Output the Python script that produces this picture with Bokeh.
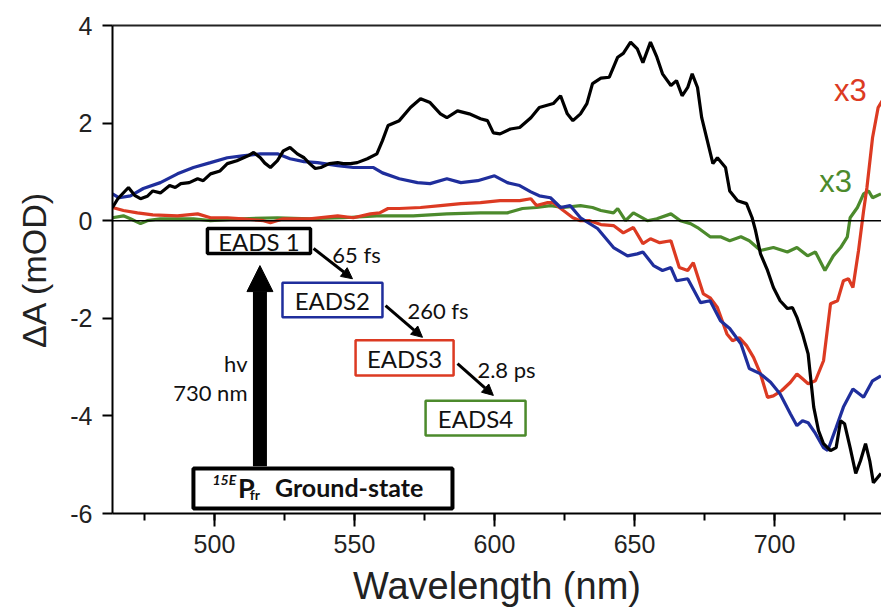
from bokeh.plotting import figure
from bokeh.models import (SingleIntervalTicker, FixedTicker, LinearAxis, Span,
                          BoxAnnotation, Label, Arrow, NormalHead)
from bokeh.embed import file_html
from bokeh.resources import INLINE

# ---------------- data ----------------
eads1_wl = [463.6, 465.5, 469.3, 471.5, 473.6, 476, 478, 480.7, 484, 486, 488, 491, 494, 496,
            498.6, 502, 504.6, 508, 512, 514, 516.4, 518, 520, 522.5, 524.6, 527, 529.6, 532,
            534, 536, 538, 541, 544, 546, 548.6, 551, 554.6, 558, 560, 562, 566, 570, 573.6,
            577, 580.7, 583, 586.8, 591, 595, 597.5, 599.6, 602, 605.7, 609, 613, 616, 621,
            623.6, 626, 628, 630.7, 633, 635, 638, 641, 644, 646, 648.6, 651, 653, 655.7, 658,
            660, 663, 665, 667, 669, 670.6, 672.5, 674, 676, 678, 679.6, 682.5, 684, 686.8,
            690, 692, 693.2, 695, 697.5, 699.6, 702, 704.6, 706.4, 708, 710, 712, 713, 714,
            715.7, 717.5, 720, 722, 723.6, 725, 727, 729, 730.7, 732.5, 734, 735.3, 738]
eads1_da = [0.27, 0.45, 0.68, 0.52, 0.45, 0.50, 0.61, 0.57, 0.72, 0.68, 0.76, 0.78, 0.86, 0.82,
            0.96, 1.02, 1.17, 1.23, 1.33, 1.40, 1.29, 1.18, 1.09, 1.23, 1.43, 1.50, 1.37, 1.29,
            1.17, 1.07, 1.09, 1.17, 1.19, 1.17, 1.17, 1.19, 1.27, 1.37, 1.64, 1.95, 2.05, 2.32,
            2.50, 2.42, 2.19, 2.11, 2.25, 2.19, 2.09, 2.05, 1.80, 1.78, 1.88, 1.91, 2.11, 2.32,
            2.40, 2.56, 2.19, 2.05, 2.19, 2.40, 2.81, 2.92, 2.94, 3.35, 3.43, 3.66, 3.52, 3.24,
            3.66, 3.35, 3.01, 2.77, 2.87, 2.56, 2.73, 3.01, 2.73, 2.11, 1.64, 1.17, 1.29, 1.09,
            0.61, 0.41, 0.35, 0.06, -0.20, -0.68, -1.02, -1.37, -1.64, -1.80, -1.78, -1.98,
            -2.32, -2.73, -3.28, -3.82, -4.30, -4.57, -4.71, -4.65, -4.10, -4.16, -4.65, -5.18,
            -4.92, -4.57, -4.92, -5.37, -5.18]

eads2_wl = [463.6, 466, 470, 474.6, 480.7, 486.8, 492.5, 498.6, 504.6, 510, 516.4, 522.5, 527,
            532, 536.8, 544, 549.6, 556.8, 560, 566, 572.5, 577, 583, 588, 594, 600, 604.6,
            609, 613, 616, 620, 623.6, 627, 630.7, 636.8, 642.5, 647.5, 651, 653, 656.8, 660,
            663, 665, 669, 673.6, 677, 680.7, 684, 688, 691, 695, 698.6, 702, 705.7, 708, 710,
            712, 714.6, 717.5, 719, 722, 724.6, 728, 731.8, 735, 738]
eads2_da = [0.55, 0.47, 0.51, 0.66, 0.78, 0.96, 1.09, 1.19, 1.29, 1.33, 1.37, 1.37, 1.27,
            1.21, 1.19, 1.13, 1.09, 1.09, 0.98, 0.86, 0.78, 0.76, 0.86, 0.78, 0.82, 0.92, 0.78,
            0.72, 0.59, 0.51, 0.47, 0.27, 0.31, 0.06, -0.16, -0.55, -0.72, -0.68, -0.64, -0.92,
            -1.02, -0.96, -1.23, -1.19, -1.68, -1.64, -2.05, -2.21, -2.52, -3.03, -3.14, -3.31,
            -3.55, -3.96, -4.20, -4.10, -4.14, -4.36, -4.65, -4.71, -4.24, -3.82, -3.45, -3.62,
            -3.28, -3.18]

eads3_wl = [463.6, 467.5, 472.5, 478, 486.8, 494, 498.6, 504.6, 510, 517.5, 520, 524.6, 534,
            544, 549.6, 555.7, 559, 562, 566, 573.6, 580.7, 588, 595, 602, 609, 613, 615, 619,
            621, 624.6, 628, 630.7, 634, 638, 642.5, 646, 649.6, 653, 655.7, 659, 663, 666, 669,
            671, 674.6, 677, 679.6, 683, 685, 687.5, 690, 692.5, 695, 697.5, 699.6, 702.6,
            705.7, 708, 710, 712, 714.6, 717.5, 720, 722.5, 724.6, 726.4, 728, 730, 731.8, 733,
            735, 737, 738.5]
eads3_da = [0.27, 0.21, 0.16, 0.12, 0.10, 0.14, 0.06, 0.06, 0.04, 0.00, -0.04, 0.04, 0.04,
            0.10, 0.06, 0.14, 0.16, 0.25, 0.25, 0.27, 0.31, 0.35, 0.37, 0.41, 0.41, 0.45, 0.31,
            0.37, 0.37, 0.21, 0.06, 0.00, 0.00, -0.08, -0.10, -0.25, -0.14, -0.47, -0.37, -0.45,
            -0.41, -0.96, -1.02, -0.86, -1.50, -1.58, -1.78, -2.32, -2.46, -2.40, -2.56, -2.80,
            -3.14, -3.62, -3.59, -3.48, -3.31, -3.14, -3.24, -3.34, -3.28, -2.87, -1.70, -1.64,
            -1.23, -1.19, -1.37, -0.61, 0.20, 0.68, 1.70, 2.32, 2.46]

eads4_wl = [463.6, 467.5, 470, 473.6, 476, 480.7, 492.5, 498.6, 510, 522.5, 534, 546, 558,
            571, 583, 595, 604.6, 610, 615, 620, 624.6, 630.7, 635, 638, 642.5, 644, 646.8,
            649.6, 654.6, 658, 663, 666.4, 670, 672.5, 677, 680.7, 684, 688, 691, 695, 699.6,
            704.6, 708, 711.8, 714.6, 718, 721, 723.6, 726, 727, 729.6, 731.8, 733.6, 735, 738]
eads4_da = [0.06, 0.10, 0.04, -0.06, 0.00, 0.04, 0.04, 0.00, 0.04, 0.06, 0.04, 0.06, 0.10,
            0.10, 0.14, 0.16, 0.16, 0.25, 0.27, 0.31, 0.27, 0.31, 0.27, 0.21, 0.16, 0.25, 0.00,
            0.16, 0.00, 0.04, 0.14, 0.00, -0.06, -0.14, -0.33, -0.33, -0.41, -0.33, -0.41,
            -0.61, -0.55, -0.64, -0.55, -0.72, -0.64, -1.02, -0.72, -0.55, -0.33, 0.06, 0.27,
            0.55, 0.61, 0.47, 0.55]

series_names = ["EADS 1", "EADS2", "EADS3", "EADS4"]
x_tick_interval = 50
y_ticks = [-6, -4, -2, 0, 2, 4]
y_tick_labels = ["-6", "-4", "-2", "0", "2", "4"]

BLACK = "#000000"
BLUE = "#1f2e9c"
RED = "#dc3a22"
GREEN = "#4c8a2c"

p = figure(width=881, height=612, x_range=(463.6, 738.2), y_range=(-6, 4),
           output_backend="svg", toolbar_location=None,
           min_border_left=112, min_border_right=0, min_border_top=25, min_border_bottom=99)
p.grid.visible = False
p.outline_line_color = None
p.background_fill_color = "white"
p.border_fill_color = "white"

# bottom axis
xa = p.below[0]
xa.ticker = SingleIntervalTicker(interval=x_tick_interval, num_minor_ticks=2)
xa.major_tick_in = 0
xa.major_tick_out = 13
xa.minor_tick_in = 0
xa.minor_tick_out = 7
xa.axis_line_width = 2
xa.major_tick_line_width = 2
xa.minor_tick_line_width = 2
xa.major_label_text_font = "Liberation Sans"
xa.major_label_text_font_size = "25px"
xa.major_label_text_color = "#222222"
xa.major_label_standoff = 8
xa.axis_label = "Wavelength (nm)"
xa.axis_label_text_font = "Liberation Sans"
xa.axis_label_text_font_size = "38px"
xa.axis_label_text_font_style = "normal"
xa.axis_label_text_color = "#222222"
xa.axis_label_standoff = 9

# left axis
ya = p.left[0]
ya.ticker = FixedTicker(ticks=y_ticks)
ya.major_label_overrides = {t: s for t, s in zip(y_ticks, y_tick_labels)}
ya.major_tick_in = 0
ya.major_tick_out = 10
ya.minor_tick_line_color = None
ya.axis_line_width = 2
ya.major_tick_line_width = 2
ya.major_label_text_font = "Liberation Sans"
ya.major_label_text_font_size = "25px"
ya.major_label_text_color = "#222222"
ya.major_label_standoff = 10
ya.axis_label = "\u0394A (mOD)"
ya.axis_label_text_font = "Liberation Sans"
ya.axis_label_text_font_size = "34px"
ya.axis_label_text_font_style = "normal"
ya.axis_label_text_color = "#222222"
ya.axis_label_standoff = 14

# top frame line
top = LinearAxis(ticker=FixedTicker(ticks=[]), major_label_text_font_size="0px",
                 major_tick_line_color=None, minor_tick_line_color=None,
                 axis_line_width=2, axis_line_color="#222222")
p.add_layout(top, "above")

# zero line
p.add_layout(Span(location=0, dimension="width", line_color="black", line_width=1.5))

# curves
p.line(eads4_wl, eads4_da, line_color=GREEN, line_width=3.2)
p.line(eads3_wl, eads3_da, line_color=RED, line_width=3.2)
p.line(eads2_wl, eads2_da, line_color=BLUE, line_width=3.2)
p.line(eads1_wl, eads1_da, line_color=BLACK, line_width=3.2)

# ---------------- annotation scheme ----------------
def box(l, r, t, b, color, w):
    p.add_layout(BoxAnnotation(left=l, right=r, top=t, bottom=b, fill_color="white",
                               fill_alpha=1, line_color=color, line_width=w, line_alpha=1))

box(497.5, 534.3, -0.16, -0.67, BLACK, 3.5)
box(524.3, 560.0, -1.27, -1.98, BLUE, 2.5)
box(550.4, 585.4, -2.45, -3.17, RED, 2.5)
box(575.4, 611.1, -3.69, -4.40, GREEN, 2.5)
box(492.5, 585.0, -5.08, -5.90, BLACK, 4)

def lab(x, y, text, size="24px", align="center", color="#111111", font="Lato", style="normal"):
    p.add_layout(Label(x=x, y=y, text=text, text_font=font, text_font_size=size,
                       text_align=align, text_baseline="middle", text_color=color,
                       text_font_style=style))

lab(515.9, -0.43, series_names[0])
lab(542.1, -1.64, series_names[1])
lab(567.9, -2.83, series_names[2])
lab(593.2, -4.06, series_names[3])

lab(542.1, -0.69, "65 fs", size="22px", align="left")
lab(568.9, -1.84, "260 fs", size="22px", align="left")
lab(593.9, -3.04, "2.8 ps", size="22px", align="left")
lab(511.8, -2.93, "hv", size="22px", align="right")
lab(511.8, -3.52, "730 nm", size="22px", align="right")

lab(499.3, -5.31, "15E", size="14px", align="left", style="bold italic")
lab(508.4, -5.46, "P", size="27px", align="left", style="bold")
lab(512.6, -5.62, "fr", size="14px", align="left", style="bold")
lab(521.6, -5.46, "Ground-state", size="25px", align="left", style="bold")

lab(727.1, 2.67, "x3", size="31px", color=RED, font="Liberation Sans")
lab(721.8, 0.80, "x3", size="31px", color=GREEN, font="Liberation Sans")

def arrow(xs, ys, xe, ye, w, hs):
    p.add_layout(Arrow(x_start=xs, y_start=ys, x_end=xe, y_end=ye, line_width=w,
                       line_color="black",
                       end=NormalHead(size=hs, fill_color="black", line_color="black",
                                      line_width=1)))

arrow(535.4, -0.57, 549.3, -1.19, 3, 11)
arrow(561.1, -1.74, 574.3, -2.39, 3, 11)
arrow(586.8, -2.93, 599.6, -3.58, 3, 11)
arrow(516.25, -5.03, 516.25, -0.92, 14, 26)

open("out.html", "w").write(file_html(p, INLINE))
